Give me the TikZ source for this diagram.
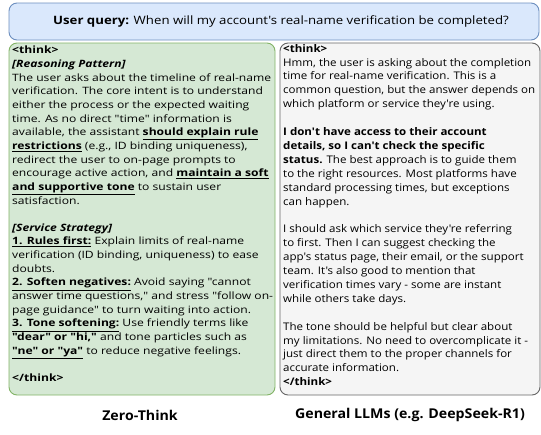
\documentclass[tikz,border=0pt]{standalone}
\usepackage{fontspec}
\setmainfont{Open Sans}
\newfontfamily\leftfont[FakeStretch=1.2]{Open Sans}
\newfontfamily\rightfont[FakeStretch=1.1]{Open Sans}
\newfontfamily\queryfont[FakeStretch=1.15]{Open Sans}
\newfontfamily\capfont[FakeStretch=1.05]{Open Sans}
\definecolor{qfill}{HTML}{DAE8FC}
\definecolor{qdraw}{HTML}{6C8EBF}
\definecolor{gfill}{HTML}{D5E8D4}
\definecolor{gdraw}{HTML}{82B366}
\definecolor{sfill}{HTML}{F5F5F5}
\definecolor{sdraw}{HTML}{666666}
\newcommand{\ub}[1]{\underline{\textbf{#1}}}
\tikzset{
  panel/.style={draw, line width=0.9pt, rounded corners=8pt},
  body/.style={anchor=north west, align=left, inner sep=0pt},
  caption/.style={font=\capfont\fontsize{13.5}{15}\selectfont\bfseries}
}
\begin{document}
\begin{tikzpicture}[x=1pt,y=-1pt]
\useasboundingbox (0,0) rectangle (541,434);
% boxes
\draw[panel, draw=qdraw, fill=qfill] (9,3) rectangle (539,40);
\draw[panel, draw=gdraw, fill=gfill] (9,43) rectangle (275,395);
\draw[panel, draw=sdraw, fill=sfill] (280,43) rectangle (540,395);
\node[font=\queryfont\fontsize{11.5}{13}\selectfont] (query) at (281,21.5) {\textbf{User query:} When will my account's real-name verification be completed?};
\node[body, font=\leftfont\fontsize{10.1}{13.65}\selectfont] (left) at (12,46) {%
\textbf{<think>}\\
\textbf{\itshape [Reasoning Pattern]}\\
The user asks about the timeline of real-name\\
verification. The core intent is to understand\\
either the process or the expected waiting\\
time. As no direct "time" information is\\
available, the assistant \ub{should explain rule}\\
\ub{restrictions} (e.g., ID binding uniqueness),\\
redirect the user to on-page prompts to\\
encourage active action, and \ub{maintain a soft}\\
\ub{and supportive tone} to sustain user\\
satisfaction.\\[13.65pt]
\textbf{\itshape [Service Strategy]}\\
\ub{1. Rules first:} Explain limits of real-name\\
verification (ID binding, uniqueness) to ease\\
doubts.\\
\ub{2. Soften negatives:} Avoid saying "cannot\\
answer time questions," and stress "follow on-\\
page guidance" to turn waiting into action.\\
\ub{3. Tone softening:} Use friendly terms like\\
\textbf{"dear" or "hi,"} and tone particles such as\\
\ub{"ne" or "ya"} to reduce negative feelings.\\[13.65pt]
\textbf{</think>}};
\node[body, font=\rightfont\fontsize{10.5}{13.9}\selectfont] (right) at (283,44) {%
\textbf{<think>}\\
Hmm, the user is asking about the completion\\
time for real-name verification. This is a\\
common question, but the answer depends on\\
which platform or service they're using.\\[13.9pt]
\textbf{I don't have access to their account}\\
\textbf{details, so I can't check the specific}\\
\textbf{status.} The best approach is to guide them\\
to the right resources. Most platforms have\\
standard processing times, but exceptions\\
can happen.\\[13.9pt]
I should ask which service they're referring\\
to first. Then I can suggest checking the\\
app's status page, their email, or the support\\
team. It's also good to mention that\\
verification times vary - some are instant\\
while others take days.\\[13.9pt]
The tone should be helpful but clear about\\
my limitations. No need to overcomplicate it -\\
just direct them to the proper channels for\\
accurate information.\\
\textbf{</think>}};
\node[caption] (cap1) at (140,415) {Zero-Think};
\node[caption] (cap2) at (410,415) {General LLMs (e.g. DeepSeek-R1)};
\end{tikzpicture}
\end{document}
